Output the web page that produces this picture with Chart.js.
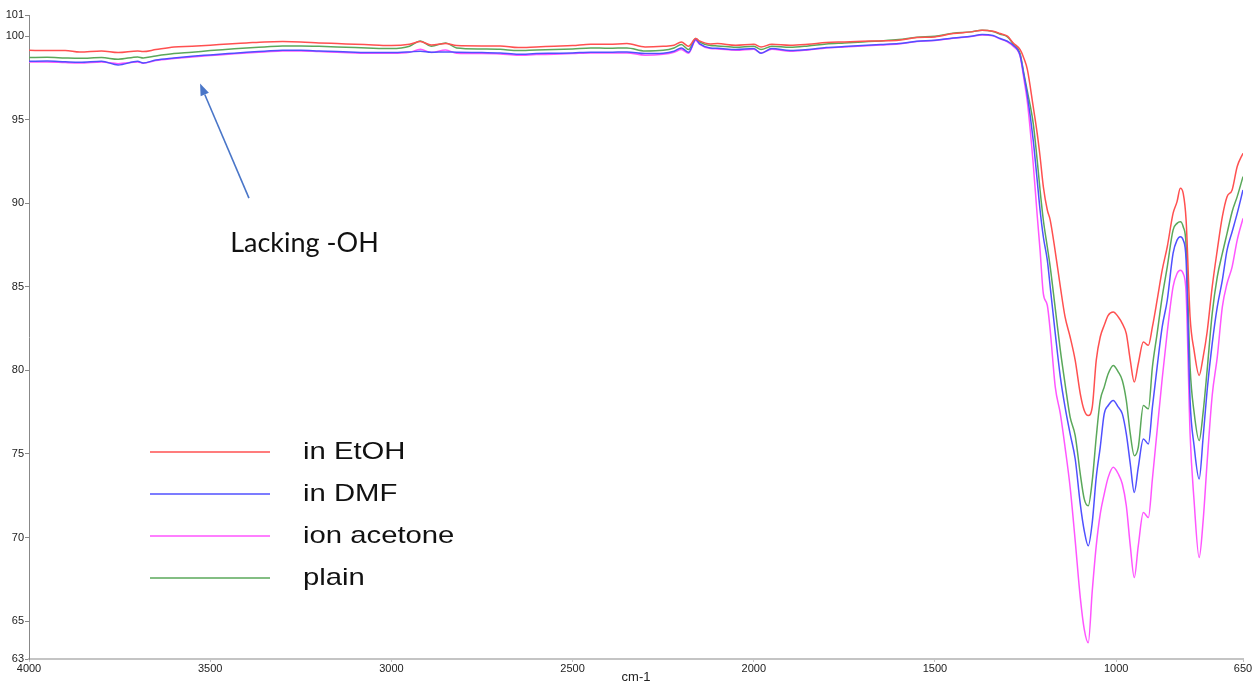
<!DOCTYPE html>
<html>
<head>
<meta charset="utf-8">
<script src="https://cdn.jsdelivr.net/npm/chart.js@4"></script>
<style>
  html, body { margin: 0; padding: 0; background: #fff; }
  canvas { display: block; }
</style>
</head>
<body>
<canvas id="spectrum" width="1256" height="685"></canvas>
<script>
// FTIR transmittance spectra (%T vs wavenumber, cm-1)
const wavenumbers = [
  4000, 3950, 3900, 3860, 3800, 3754, 3700, 3685, 3650, 3600,
  3550, 3500, 3450, 3400, 3350, 3300, 3250, 3200, 3150, 3100,
  3050, 3000, 2950, 2920, 2890, 2850, 2820, 2750, 2700, 2650,
  2600, 2550, 2500, 2450, 2400, 2350, 2300, 2250, 2220, 2200,
  2180, 2160, 2150, 2120, 2100, 2050, 2000, 1980, 1950, 1900,
  1850, 1800, 1750, 1700, 1650, 1600, 1550, 1500, 1450, 1400,
  1370, 1340, 1320, 1300, 1284, 1265,
  1255, 1245, 1229, 1218, 1210, 1201, 1190, 1182, 1168, 1154,
  1141, 1127, 1113, 1099, 1088, 1077, 1066, 1055, 1044, 1033,
  1022, 1008, 994, 983, 972, 961, 950, 939, 925, 911,
  900, 887, 873, 859, 843, 832, 823, 815, 807, 796,
  785, 771, 760, 749, 735, 721, 707, 694, 680, 666,
  650
];

const inEtOH = [
  99.16, 99.14, 99.15, 99.05, 99.12, 99.02, 99.12, 99.08, 99.20, 99.36,
  99.40, 99.46, 99.54, 99.60, 99.66, 99.68, 99.66, 99.60, 99.56, 99.52,
  99.48, 99.44, 99.52, 99.68, 99.48, 99.56, 99.44, 99.42, 99.42, 99.32,
  99.36, 99.40, 99.44, 99.52, 99.52, 99.56, 99.36, 99.40, 99.46, 99.66,
  99.40, 99.86, 99.72, 99.54, 99.56, 99.46, 99.52, 99.36, 99.52, 99.46,
  99.52, 99.62, 99.66, 99.70, 99.72, 99.76, 99.92, 99.96, 100.16, 100.26,
  100.36, 100.30, 100.16, 100.00, 99.60, 99.20,
  98.70, 98.00, 95.80, 94.20, 92.80, 91.00, 89.60, 89.00, 87.10, 85.00,
  83.20, 82.00, 80.60, 78.60, 77.60, 77.30, 77.80, 80.60, 82.00, 82.70,
  83.30, 83.50, 83.20, 82.80, 82.20, 80.60, 79.30, 80.40, 81.70, 81.50,
  82.60, 84.20, 86.00, 87.40, 89.40, 90.10, 90.90, 90.60, 89.00, 83.20,
  81.20, 79.70, 80.80, 82.30, 85.00, 87.20, 89.20, 90.40, 90.80, 92.20,
  93.00
];

const inDMF = [
  98.50, 98.52, 98.47, 98.44, 98.50, 98.28, 98.50, 98.40, 98.58, 98.70,
  98.80, 98.88, 98.96, 99.04, 99.10, 99.16, 99.16, 99.12, 99.08, 99.04,
  99.02, 99.02, 99.06, 99.10, 99.04, 99.06, 99.04, 99.02, 99.00, 98.92,
  98.96, 98.98, 99.00, 99.04, 99.04, 99.06, 98.96, 98.98, 99.10, 99.30,
  99.04, 99.80, 99.56, 99.30, 99.28, 99.20, 99.26, 98.98, 99.26, 99.14,
  99.20, 99.32, 99.38, 99.44, 99.50, 99.56, 99.70, 99.76, 99.90, 100.00,
  100.10, 100.04, 99.86, 99.70, 99.46, 98.85,
  97.70, 96.45, 93.80, 91.40, 89.60, 88.00, 86.60, 85.00, 82.20, 79.60,
  77.80, 76.20, 74.70, 72.00, 70.40, 69.50, 70.90, 73.60, 75.40, 77.40,
  77.90, 78.20, 77.80, 77.40, 76.20, 74.40, 72.70, 74.20, 75.90, 75.60,
  77.80, 80.20, 82.60, 84.20, 87.00, 87.80, 88.00, 87.80, 86.60, 78.20,
  75.50, 73.50, 76.00, 78.80, 81.60, 83.80, 85.40, 87.20, 88.30, 89.40,
  90.80
];

const ionAcetone = [
  98.45, 98.46, 98.42, 98.40, 98.46, 98.36, 98.46, 98.38, 98.54, 98.66,
  98.76, 98.84, 98.92, 99.00, 99.06, 99.12, 99.12, 99.08, 99.04, 99.00,
  98.98, 98.98, 99.04, 99.22, 99.02, 99.18, 98.98, 98.96, 98.94, 98.86,
  98.90, 98.92, 98.96, 99.00, 99.00, 99.00, 98.86, 98.92, 99.04, 99.20,
  98.98, 99.76, 99.52, 99.26, 99.24, 99.16, 99.22, 99.00, 99.22, 99.10,
  99.18, 99.30, 99.36, 99.42, 99.48, 99.54, 99.68, 99.74, 99.88, 99.98,
  100.08, 100.02, 99.84, 99.66, 99.40, 98.80,
  97.50, 96.05, 92.40, 89.30, 87.20, 84.60, 83.90, 82.40, 79.00, 77.40,
  75.40, 73.00, 69.80, 66.40, 64.50, 63.70, 66.80, 69.50, 71.40, 72.60,
  73.60, 74.20, 73.80, 73.20, 71.90, 69.50, 67.60, 69.50, 71.50, 71.20,
  73.50, 76.40, 79.50, 82.30, 85.00, 85.80, 86.00, 85.80, 84.60, 76.20,
  72.20, 68.80, 71.00, 74.50, 78.50, 80.80, 83.80, 85.20, 86.20, 87.80,
  89.10
];

const plain = [
  98.72, 98.74, 98.70, 98.68, 98.72, 98.62, 98.76, 98.70, 98.82, 98.96,
  99.04, 99.14, 99.22, 99.30, 99.36, 99.42, 99.42, 99.40, 99.36, 99.32,
  99.28, 99.26, 99.40, 99.72, 99.40, 99.60, 99.30, 99.24, 99.22, 99.14,
  99.18, 99.20, 99.24, 99.30, 99.28, 99.30, 99.12, 99.16, 99.30, 99.50,
  99.20, 99.86, 99.66, 99.44, 99.42, 99.34, 99.40, 99.20, 99.40, 99.34,
  99.42, 99.54, 99.60, 99.66, 99.72, 99.80, 99.94, 100.00, 100.18, 100.26,
  100.36, 100.28, 100.12, 99.96, 99.54, 98.95,
  97.80, 96.70, 94.80, 92.60, 90.80, 89.00, 87.40, 86.20, 83.70, 81.20,
  79.20, 77.20, 76.10, 73.80, 72.30, 71.90, 73.40, 76.00, 78.20, 79.00,
  79.80, 80.30, 79.90, 79.40, 78.20, 76.20, 74.90, 75.40, 77.90, 77.70,
  80.20, 82.20, 84.40, 86.20, 88.40, 88.80, 88.90, 88.60, 87.50, 80.20,
  77.50, 75.80, 77.50, 80.00, 83.40, 85.60, 87.00, 88.20, 89.50, 90.40,
  91.60
];

const seriesLabels = ['in EtOH', 'in DMF', 'ion acetone', 'plain'];
const seriesColors = ['#ff5050', '#5050ff', '#ff55ff', '#5aa85a'];

// axis range and tick positions (end ticks label the rounded axis limits)
const xMin = 650, xMax = 4000;
const xTicks = [4000, 3500, 3000, 2500, 2000, 1500, 1000, 650];
const yMin = 62.73, yMax = 101.27;
const yTicks = [yMin, 65, 70, 75, 80, 85, 90, 95, 100, yMax];

// annotation pointing at the 3200-3600 cm-1 region (data coordinates)
const noteText = 'Lacking -OH';
const notePos = { x: 3445, y: 87.09 };
const arrowTail = { x: 3393, y: 90.31 };
const arrowTip = { x: 3528, y: 97.17 };

const toPoints = vals => wavenumbers.map((w, i) => ({ x: w, y: vals[i] }));
const seriesValues = [inEtOH, inDMF, ionAcetone, plain];

const overlay = {
  id: 'overlay',
  afterDatasetsDraw(chart) {
    const { ctx, chartArea, scales: { x, y } } = chart;
    ctx.save();

    // arrow
    const x0 = x.getPixelForValue(arrowTail.x), y0 = y.getPixelForValue(arrowTail.y);
    const x1 = x.getPixelForValue(arrowTip.x), y1 = y.getPixelForValue(arrowTip.y);
    const ang = Math.atan2(y1 - y0, x1 - x0);
    const headLen = 12, headHalf = 4.5;
    const bx = x1 - headLen * Math.cos(ang), by = y1 - headLen * Math.sin(ang);
    ctx.strokeStyle = '#4a76c8';
    ctx.fillStyle = '#4a76c8';
    ctx.lineWidth = 1.6;
    ctx.beginPath();
    ctx.moveTo(x0, y0);
    ctx.lineTo(bx, by);
    ctx.stroke();
    ctx.beginPath();
    ctx.moveTo(x1, y1);
    ctx.lineTo(bx + headHalf * Math.sin(ang), by - headHalf * Math.cos(ang));
    ctx.lineTo(bx - headHalf * Math.sin(ang), by + headHalf * Math.cos(ang));
    ctx.closePath();
    ctx.fill();

    // annotation text
    ctx.fillStyle = '#111';
    ctx.font = '27px Lato';
    ctx.textAlign = 'left';
    ctx.textBaseline = 'alphabetic';
    ctx.fillText(noteText, x.getPixelForValue(notePos.x), y.getPixelForValue(notePos.y));

    // legend inside the plot area
    const lgLeft = chartArea.left + 121, lgTop = chartArea.top + 437;
    const rowGap = 42, lineLen = 120, textOffset = 153;
    chart.data.datasets.forEach((ds, i) => {
      const ly = lgTop + i * rowGap;
      ctx.strokeStyle = ds.borderColor;
      ctx.lineWidth = 1.6;
      ctx.beginPath();
      ctx.moveTo(lgLeft, ly);
      ctx.lineTo(lgLeft + lineLen, ly);
      ctx.stroke();
      ctx.save();
      ctx.translate(lgLeft + textOffset, ly + 6.5);
      ctx.scale(1.22, 1);
      ctx.fillStyle = '#111';
      ctx.font = '24px "Liberation Sans"';
      ctx.fillText(ds.label, 0, 0);
      ctx.restore();
    });

    ctx.restore();
  }
};

const tickFont = { family: 'Liberation Sans', size: 11 };

new Chart(document.getElementById('spectrum'), {
  type: 'line',
  data: {
    datasets: seriesLabels.map((label, i) => ({
      label,
      data: toPoints(seriesValues[i]),
      borderColor: seriesColors[i],
      backgroundColor: seriesColors[i],
      borderWidth: 1.5,
      pointRadius: 0,
      fill: false,
      cubicInterpolationMode: 'monotone'
    }))
  },
  options: {
    responsive: false,
    animation: false,
    devicePixelRatio: 1,
    layout: { padding: { left: 0, right: 13, top: 15, bottom: 0 } },
    plugins: {
      legend: { display: false },
      tooltip: { enabled: false }
    },
    scales: {
      x: {
        type: 'linear',
        reverse: true,
        min: xMin,
        max: xMax,
        afterBuildTicks: s => { s.ticks = xTicks.map(v => ({ value: v })); },
        afterFit: s => { s.height = 26; },
        grid: { drawOnChartArea: false, drawTicks: true, tickLength: 3, color: '#c4c4c4' },
        border: { color: '#c4c4c4', width: 2 },
        ticks: {
          padding: 0, color: '#222', font: tickFont,
          autoSkip: false, maxRotation: 0,
          callback: v => String(v)
        },
        title: {
          display: true, text: 'cm-1', color: '#222',
          font: { family: 'Liberation Sans', size: 13 },
          padding: { top: 0, bottom: 0 }
        }
      },
      y: {
        type: 'linear',
        min: yMin,
        max: yMax,
        afterBuildTicks: s => { s.ticks = yTicks.map(v => ({ value: v })); },
        afterFit: s => { s.width = 29; },
        grid: { drawOnChartArea: false, drawTicks: true, tickLength: 4, color: '#888' },
        border: { color: '#888', width: 1 },
        ticks: {
          padding: 1, color: '#222', font: tickFont, autoSkip: false,
          callback: v => String(Math.round(v))
        }
      }
    }
  },
  plugins: [overlay]
});
</script>
</body>
</html>
